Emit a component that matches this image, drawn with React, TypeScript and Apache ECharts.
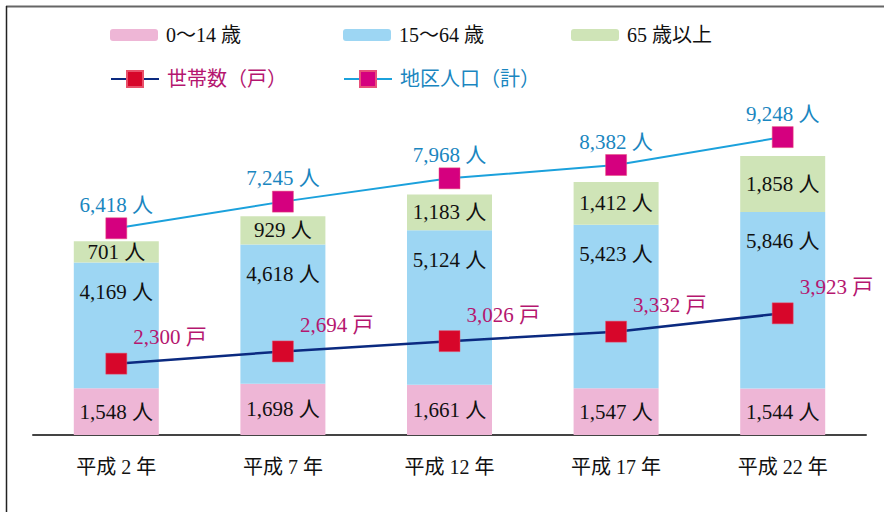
import React, { useEffect, useRef } from "react";
import * as echarts from "echarts";

const categories = ["平成 2 年", "平成 7 年", "平成 12 年", "平成 17 年", "平成 22 年"];
const age0to14 = [1548, 1698, 1661, 1547, 1544];
const age15to64 = [4169, 4618, 5124, 5423, 5846];
const age65plus = [701, 929, 1183, 1412, 1858];
const households = [2300, 2694, 3026, 3332, 3923];
const population = [6418, 7245, 7968, 8382, 9248];

const seriesNames = ["0～14 歳", "15～64 歳", "65 歳以上", "世帯数（戸）", "地区人口（計）"];

const FONT = "'Liberation Serif', 'Noto Sans CJK JP', serif";
const fmt = (v: number) => v.toLocaleString("en-US");

export default function App() {
  const ref = useRef<HTMLDivElement>(null);
  useEffect(() => {
    if (!ref.current) return;
    const chart = echarts.init(ref.current, null, { renderer: "svg" });
    const barLabel = (pos: any, extra: any = {}) => ({
      show: true,
      position: pos,
      color: "#111",
      fontSize: 21,
      fontFamily: FONT,
      formatter: (p: any) => fmt(p.value) + " 人",
      ...extra,
    });
    const legendBase = {
      orient: "horizontal",
      padding: 0,
      itemWidth: 48,
      textStyle: { fontSize: 20, fontFamily: FONT, color: "#111", padding: [0, 0, 0, 3] },
      selectedMode: false,
    };
    chart.setOption({
      animation: false,
      backgroundColor: "#fff",
      textStyle: { fontFamily: FONT },
      graphic: [
        { type: "line", shape: { x1: 6, y1: 6.5, x2: 884, y2: 6.5 }, style: { stroke: "#666", lineWidth: 2 } },
        { type: "line", shape: { x1: 6.5, y1: 6, x2: 6.5, y2: 512 }, style: { stroke: "#222", lineWidth: 1.5 } },
      ],
      legend: [
        { ...legendBase, data: [seriesNames[0]], left: 110, top: 25, itemHeight: 12 },
        { ...legendBase, data: [seriesNames[1]], left: 343, top: 25, itemHeight: 12 },
        { ...legendBase, data: [seriesNames[2]], left: 571, top: 25, itemHeight: 12 },
        {
          ...legendBase,
          data: [seriesNames[3]],
          left: 110,
          top: 69,
          itemHeight: 20,
          textStyle: { ...legendBase.textStyle, color: "#b5166f" },
        },
        {
          ...legendBase,
          data: [seriesNames[4]],
          left: 343,
          top: 69,
          itemHeight: 20,
          textStyle: { ...legendBase.textStyle, color: "#1a86c0" },
        },
      ],
      grid: { left: 33, right: 18, top: 100, bottom: 77, containLabel: false },
      xAxis: {
        type: "category",
        data: categories,
        axisLine: { lineStyle: { color: "#444", width: 2 } },
        axisTick: { show: false },
        axisLabel: { margin: 22, fontSize: 20, color: "#111", fontFamily: FONT },
      },
      yAxis: [
        { type: "value", min: 0, max: 11100, show: false, splitLine: { show: false } },
        { type: "value", min: 0, max: 10800, show: false, splitLine: { show: false } },
        { type: "value", min: 0, max: 10400, show: false, splitLine: { show: false } },
      ],
      series: [
        {
          name: seriesNames[0],
          type: "bar",
          stack: "pop",
          barWidth: 85,
          data: age0to14,
          itemStyle: { color: "#eeb6d6" },
          label: barLabel("inside"),
          z: 2,
        },
        {
          name: seriesNames[1],
          type: "bar",
          stack: "pop",
          barWidth: 85,
          data: age15to64,
          itemStyle: { color: "#9dd6f3" },
          label: barLabel("insideTop", { distance: 19 }),
          z: 2,
        },
        {
          name: seriesNames[2],
          type: "bar",
          stack: "pop",
          barWidth: 85,
          data: age65plus,
          itemStyle: { color: "#cfe4b7" },
          label: barLabel("inside"),
          z: 2,
        },
        {
          name: seriesNames[3],
          type: "line",
          yAxisIndex: 1,
          data: households,
          symbol: "rect",
          symbolSize: 21,
          lineStyle: { color: "#0b2a80", width: 2.5 },
          itemStyle: { color: "#d7062a", borderColor: "#e8506a", borderWidth: 0.5 },
          label: {
            show: true,
            position: "top",
            align: "left",
            offset: [17, 0],
            color: "#b5166f",
            fontSize: 21,
            fontFamily: FONT,
            formatter: (p: any) => fmt(p.value) + " 戸",
          },
          z: 5,
        },
        {
          name: seriesNames[4],
          type: "line",
          yAxisIndex: 2,
          data: population,
          symbol: "rect",
          symbolSize: 21,
          lineStyle: { color: "#1ba1dc", width: 2 },
          itemStyle: { color: "#d5007f", borderColor: "#e8507a", borderWidth: 0.5 },
          label: {
            show: true,
            position: "top",
            offset: [0, 3],
            color: "#1a86c0",
            fontSize: 21,
            fontFamily: FONT,
            formatter: (p: any) => fmt(p.value) + " 人",
          },
          z: 5,
        },
      ],
    });
    return () => chart.dispose();
  }, []);
  return (
    <div
      ref={ref}
      style={{ position: "absolute", left: 0, top: 0, width: 884, height: 512, background: "#fff" }}
    />
  );
}
